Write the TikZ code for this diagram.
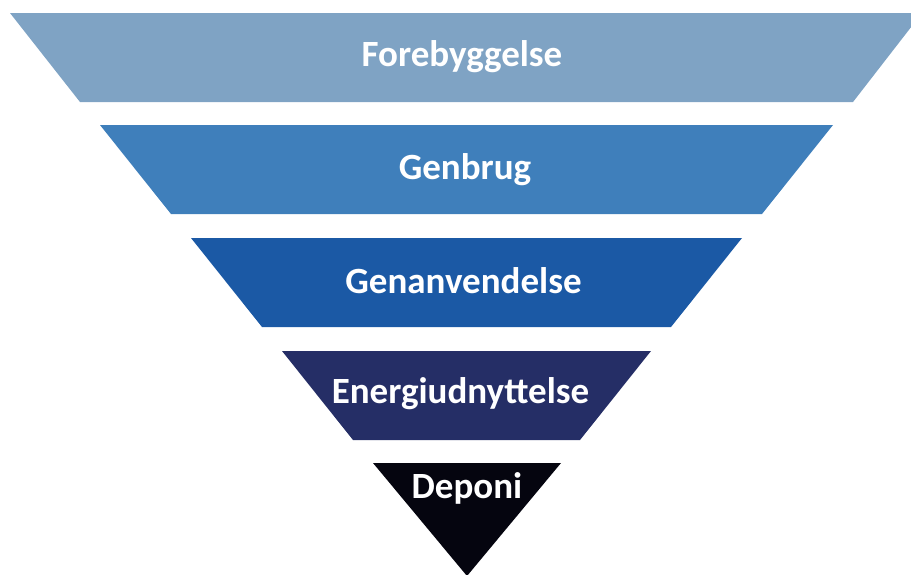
\documentclass[tikz,border=0pt]{standalone}
\usepackage{fontspec}
\setmainfont{Carlito}
\definecolor{forecol}{HTML}{7FA3C4}
\definecolor{genbcol}{HTML}{3F7FBB}
\definecolor{genacol}{HTML}{1B59A5}
\definecolor{enercol}{HTML}{252E66}
\definecolor{depocol}{HTML}{05050F}

\begin{document}
\begin{tikzpicture}[x=1pt,y=-1pt,
   lvltext/.style={white,font=\fontsize{37}{41}\selectfont\bfseries,anchor=base,inner sep=0pt}]
\useasboundingbox (0,0) rectangle (911,574);
\clip (0,0) rectangle (911,574);
%
   \fill [forecol] (10,13) -- (922,13) -- (853,102) -- (80,102) -- cycle;
   \fill [genbcol] (100,125) -- (833,125) -- (762,214) -- (171,214) -- cycle;
   \fill [genacol] (191,238) -- (742,238) -- (671,327) -- (262,327) -- cycle;
   \fill [enercol] (282,351) -- (651,351) -- (580,440) -- (353,440) -- cycle;
   \fill [depocol] (373,463) -- (561,463) -- (467,576) -- cycle;
%
       \node [lvltext] at (462,66) (forebyg) {Forebyggelse};
          \node [lvltext] at (465,179) (genbrug) {Genbrug};
             \node [lvltext] at (463.5,293) (genanv) {Genanvendelse};
                \node [lvltext] at (460.5,403) (energi) {Energiudnyttelse};
                   \node [lvltext] at (467,498) (deponi) {Deponi};
%
\end{tikzpicture}
\end{document}
